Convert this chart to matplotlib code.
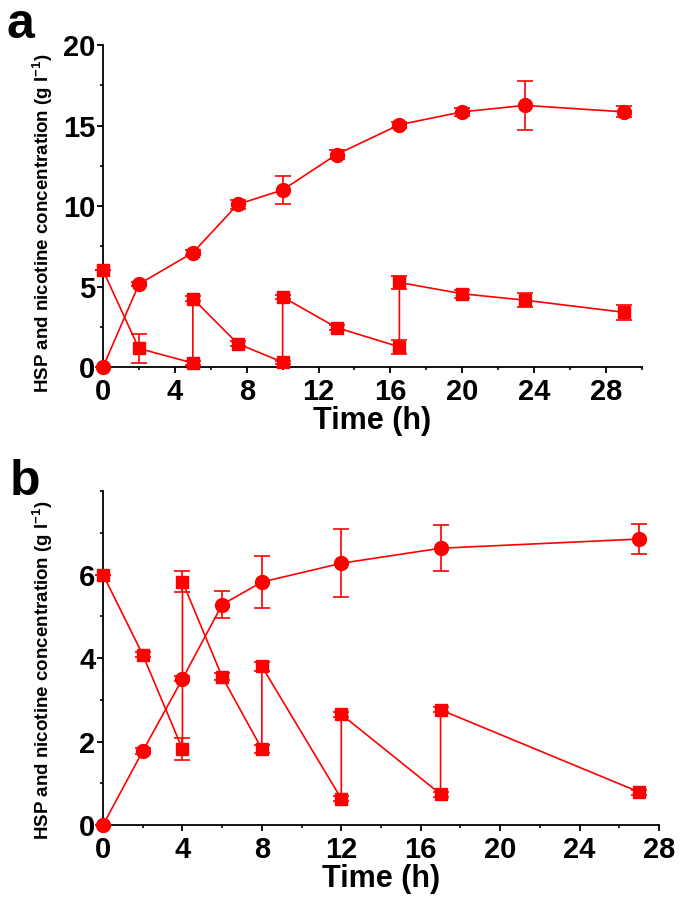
import matplotlib
matplotlib.use("Agg")
import matplotlib.pyplot as plt
from matplotlib.ticker import MultipleLocator

# ---- panel a : HSP (circles) ----
a_hsp_t = [0, 2, 5, 7.5, 10, 13, 16.5, 20, 23.5, 29]
a_hsp = [0, 5.15, 7.1, 10.1, 11.0, 13.2, 15.05, 15.85, 16.25, 15.85]
a_hsp_err = [0, 0.12, 0.15, 0.3, 0.85, 0.25, 0.2, 0.25, 1.5, 0.35]

# ---- panel a : nicotine (squares), repeated times = nicotine feeding ----
a_nic_t = [0, 2, 5, 5, 7.5, 10, 10, 13, 16.5, 16.5, 20, 23.5, 29]
a_nic = [6.0, 1.15, 0.25, 4.25, 1.45, 0.3, 4.35, 2.45, 1.25, 5.25, 4.55, 4.15, 3.4]
a_nic_err = [0, 0.9, 0.1, 0.15, 0.15, 0.1, 0.15, 0.15, 0.45, 0.4, 0.25, 0.45, 0.45]

# ---- panel b : HSP (circles) ----
b_hsp_t = [0, 2, 4, 6, 8, 12, 17, 27]
b_hsp = [0, 1.77, 3.5, 5.28, 5.82, 6.27, 6.63, 6.85]
b_hsp_err = [0, 0.08, 0.06, 0.33, 0.63, 0.82, 0.55, 0.37]

# ---- panel b : nicotine (squares) ----
b_nic_t = [0, 2, 4, 4, 6, 8, 8, 12, 12, 17, 17, 27]
b_nic = [6.0, 4.08, 1.82, 5.83, 3.55, 1.82, 3.8, 0.63, 2.65, 0.74, 2.76, 0.79]
b_nic_err = [0, 0.06, 0.26, 0.26, 0.08, 0.1, 0.1, 0.06, 0.06, 0.06, 0.06, 0.06]

xticks = [0, 4, 8, 12, 16, 20, 24, 28]
a_yticks = [0, 5, 10, 15, 20]
b_yticks = [0, 2, 4, 6]

RED = "#ff0000"
FONT = "Liberation Sans"
ylab = "HSP and nicotine concentration (g l$^{\\mathbf{-1}}$)"

plt.rcParams["mathtext.fontset"] = "custom"
plt.rcParams["mathtext.bf"] = "Liberation Sans:bold"
plt.rcParams["mathtext.rm"] = "Liberation Sans"

fig = plt.figure(figsize=(6.85, 9.08), dpi=100)
ax_a = fig.add_axes([0.1504, 0.5958, 0.7866, 0.3546])
ax_b = fig.add_axes([0.1504, 0.0914, 0.8116, 0.3678])


def draw(ax, t, y, err, marker, ms):
    cont = ax.errorbar(t, y, yerr=err, fmt="-" + marker, color=RED, ms=ms,
                       lw=1.2, elinewidth=1.2, capsize=5.5, capthick=1.2,
                       clip_on=False, zorder=3)
    for art in cont.lines[1] + cont.lines[2]:
        art.set_clip_on(False)
    cont.lines[0].set_clip_on(False)


def style(ax, xmax, yticks, ymax, yminor, fs):
    for s in ["top", "right"]:
        ax.spines[s].set_visible(False)
    for s in ["left", "bottom"]:
        ax.spines[s].set_linewidth(1.3)
    ax.set_xlim(0, xmax)
    ax.set_ylim(0, ymax)
    ax.set_xticks(xticks)
    ax.set_yticks(yticks)
    ax.xaxis.set_minor_locator(MultipleLocator(2))
    ax.yaxis.set_minor_locator(MultipleLocator(yminor))
    ax.tick_params(which="major", direction="out", length=4, width=1.3)
    ax.tick_params(which="minor", direction="out", length=2.5, width=1.2)
    ax.tick_params(axis="x", pad=4)
    ax.tick_params(axis="y", pad=1.5)
    for lab in ax.get_xticklabels() + ax.get_yticklabels():
        lab.set_family(FONT)
        lab.set_fontweight("bold")
        lab.set_fontsize(fs)
    ax.set_xlabel("Time (h)", family=FONT, fontweight="bold", fontsize=22, labelpad=0)


draw(ax_a, a_hsp_t, a_hsp, a_hsp_err, "o", 10)
draw(ax_a, a_nic_t, a_nic, a_nic_err, "s", 9)
style(ax_a, 30, a_yticks, 20, 2.5, 21)

draw(ax_b, b_hsp_t, b_hsp, b_hsp_err, "o", 10)
draw(ax_b, b_nic_t, b_nic, b_nic_err, "s", 9)
style(ax_b, 28, b_yticks, 8, 1, 21)

fig.text(0.062, 0.754, ylab, rotation=90, ha="center", va="center",
         family=FONT, fontweight="bold", fontsize=13.5)
fig.text(0.062, 0.262, ylab, rotation=90, ha="center", va="center",
         family=FONT, fontweight="bold", fontsize=13.5)

fig.text(0.010, 0.998, "a", family=FONT, fontweight="bold",
         fontsize=36, va="top", ha="left")
fig.text(0.014, 0.494, "b", family=FONT, fontweight="bold",
         fontsize=36, va="top", ha="left")

fig.savefig("out.png", dpi=100)
